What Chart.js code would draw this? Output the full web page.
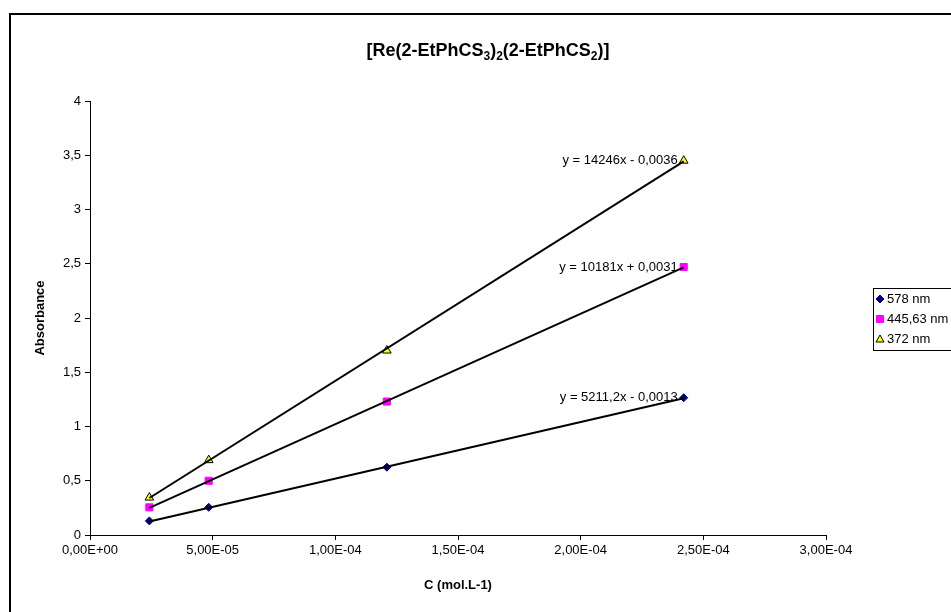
<!DOCTYPE html>
<html lang="fr">
<head>
  <meta charset="UTF-8">
  <title>Absorbance vs C</title>
  <script src="https://cdn.jsdelivr.net/npm/chart.js"></script>
  <style>
    body { margin: 0; padding: 0; background: white; }
    #wrap { position: relative; width: 951px; height: 612px; overflow: hidden; }
    canvas { display: block; }
  </style>
</head>
<body>
  <div id="wrap"><canvas id="absChart" width="951" height="612"></canvas></div>

  <script>
    // values
    const concentrations = [2.42e-5, 4.84e-5, 1.21e-4, 2.42e-4];
    const abs578 = [0.13, 0.255, 0.625, 1.265];
    const abs445 = [0.255, 0.50, 1.23, 2.47];
    const abs372 = [0.345, 0.69, 1.70, 3.45];
    const seriesNames = ['578 nm', '445,63 nm', '372 nm'];
    // linear trendlines as printed on the chart
    const slopes = [5211.2, 10181, 14246];
    const intercepts = [-0.0013, 0.0031, -0.0036];
    const equations = ['y = 5211,2x - 0,0013', 'y = 10181x + 0,0031', 'y = 14246x - 0,0036'];

    const FONT = "'Liberation Sans', Arial, sans-serif";
    const series = [abs578, abs445, abs372];
    const markers = [
      { pointStyle: 'rectRot', radius: 4, bg: '#000080', border: '#000080' },
      { pointStyle: 'rect', radius: 5, bg: '#FF00FF', border: '#FF00FF' },
      { pointStyle: 'triangle', radius: 5, bg: '#FFFF00', border: '#000000' }
    ];

    const pointSets = series.map((vals, i) => ({
      label: seriesNames[i],
      data: concentrations.map((c, k) => ({ x: c, y: vals[k] })),
      showLine: false,
      pointStyle: markers[i].pointStyle,
      pointRadius: markers[i].radius,
      pointBackgroundColor: markers[i].bg,
      pointBorderColor: markers[i].border,
      pointBorderWidth: 1,
      order: 1
    }));

    const first = concentrations[0], last = concentrations[concentrations.length - 1];
    const trendSets = slopes.map((m, i) => ({
      label: 'trend ' + seriesNames[i],
      data: [{ x: first, y: m * first + intercepts[i] }, { x: last, y: m * last + intercepts[i] }],
      showLine: true,
      borderColor: '#000',
      borderWidth: 2,
      pointRadius: 0,
      order: 0
    }));

    const fmtSci = v => {
      if (v === 0) return '0,00E+00';
      const [mant, exp] = v.toExponential(2).split('e');
      const e = parseInt(exp, 10);
      return mant.replace('.', ',') + 'E' + (e < 0 ? '-' : '+') + String(Math.abs(e)).padStart(2, '0');
    };

    const decorPlugin = {
      id: 'decor',
      beforeDraw(chart) {
        const c = chart.ctx;
        c.save();
        c.fillStyle = '#fff';
        c.fillRect(0, 0, chart.width, chart.height);
        c.strokeStyle = '#000';
        c.lineWidth = 2;
        c.beginPath();
        c.moveTo(10, 612);
        c.lineTo(10, 14);
        c.lineTo(951, 14);
        c.stroke();
        c.restore();
      },
      afterDraw(chart) {
        const c = chart.ctx;
        const area = chart.chartArea;
        c.save();
        c.fillStyle = '#000';

        // title with subscripts
        const parts = [['[Re(2-EtPhCS', 0], ['3', 1], [')', 0], ['2', 1], ['(2-EtPhCS', 0], ['2', 1], [')]', 0]];
        const big = 'bold 18px ' + FONT, small = 'bold 12px ' + FONT;
        let w = 0;
        parts.forEach(([t, s]) => { c.font = s ? small : big; w += c.measureText(t).width; });
        let x = 488 - w / 2;
        c.textBaseline = 'alphabetic';
        c.textAlign = 'left';
        parts.forEach(([t, s]) => {
          c.font = s ? small : big;
          c.fillText(t, x, s ? 60 : 56);
          x += c.measureText(t).width;
        });

        // axis titles
        c.font = 'bold 13px ' + FONT;
        c.textAlign = 'center';
        c.textBaseline = 'middle';
        c.fillText('C (mol.L-1)', (area.left + area.right) / 2, 585);
        c.save();
        c.translate(40, (area.top + area.bottom) / 2);
        c.rotate(-Math.PI / 2);
        c.fillText('Absorbance', 0, 0);
        c.restore();

        // trendline equations next to the last point
        c.font = '13px ' + FONT;
        c.textAlign = 'right';
        c.textBaseline = 'middle';
        series.forEach((vals, i) => {
          const pts = chart.getDatasetMeta(i).data;
          const p = pts[pts.length - 1];
          c.fillText(equations[i], p.x - 6, p.y);
        });

        // legend box
        const lx = 873, ly = 288, step = 20;
        c.strokeStyle = '#000';
        c.lineWidth = 1;
        c.strokeRect(lx + 0.5, ly + 0.5, 100, 62);
        c.textAlign = 'left';
        series.forEach((vals, i) => {
          const y = ly + 11 + i * step;
          const mk = markers[i];
          const cx = lx + 7, r = 4;
          c.fillStyle = mk.bg;
          c.strokeStyle = mk.border;
          c.lineWidth = 1;
          c.beginPath();
          if (mk.pointStyle === 'rectRot') {
            c.moveTo(cx, y - r); c.lineTo(cx + r, y); c.lineTo(cx, y + r); c.lineTo(cx - r, y);
          } else if (mk.pointStyle === 'rect') {
            c.rect(cx - 3.5, y - 3.5, 7, 7);
          } else {
            c.moveTo(cx, y - r); c.lineTo(cx + r, y + r - 1); c.lineTo(cx - r, y + r - 1);
          }
          c.closePath();
          c.fill();
          c.stroke();
          c.fillStyle = '#000';
          c.fillText(seriesNames[i], lx + 14, y);
        });
        c.restore();
      }
    };

    new Chart(document.getElementById('absChart'), {
      type: 'scatter',
      data: { datasets: [...pointSets, ...trendSets] },
      options: {
        responsive: false,
        animation: false,
        layout: { padding: { left: 30, right: 125, top: 101, bottom: 37 } },
        plugins: { legend: { display: false }, title: { display: false }, tooltip: { enabled: false } },
        scales: {
          x: {
            type: 'linear',
            min: 0, max: 3e-4,
            afterFit: s => { s.height = 40; },
            border: { display: true, color: '#000', width: 1 },
            grid: { display: true, drawOnChartArea: false, drawTicks: true, tickLength: 5, color: '#000' },
            ticks: { stepSize: 5e-5, color: '#000', padding: 3, maxRotation: 0, font: { family: FONT, size: 13 }, callback: v => fmtSci(v) }
          },
          y: {
            min: 0, max: 4,
            afterFit: s => { s.width = 60; },
            border: { display: true, color: '#000', width: 1 },
            grid: { display: true, drawOnChartArea: false, drawTicks: true, tickLength: 5, color: '#000' },
            ticks: { stepSize: 0.5, color: '#000', padding: 4, font: { family: FONT, size: 13 }, callback: v => String(v).replace('.', ',') }
          }
        }
      },
      plugins: [decorPlugin]
    });
  </script>
</body>
</html>
